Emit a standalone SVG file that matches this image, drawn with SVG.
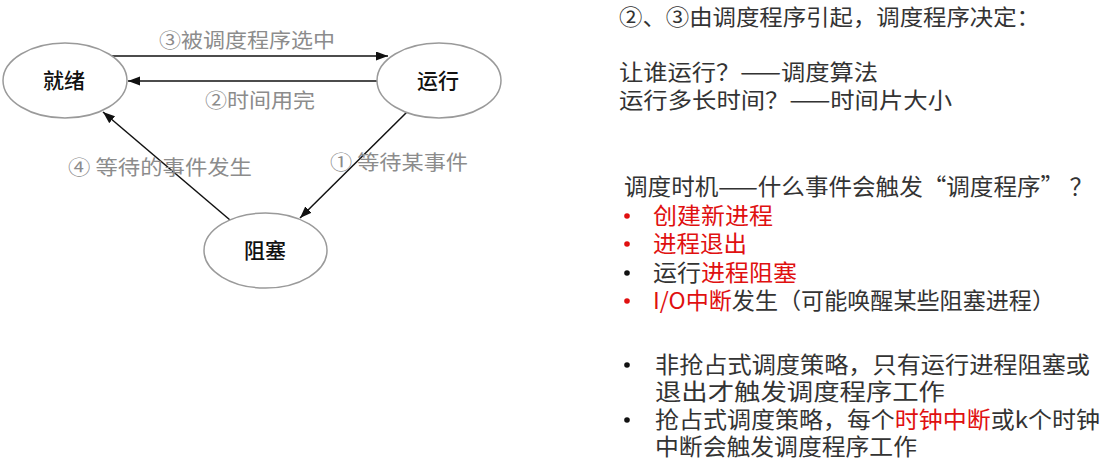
<svg xmlns="http://www.w3.org/2000/svg" width="1114" height="473" viewBox="0 0 1114 473">
<style>
.node{fill:#fff;stroke:#9a9a9a;stroke-width:1.5}
.nl{font-family:"Noto Sans CJK SC","Noto Sans",sans-serif;font-size:21px;font-weight:500;fill:#111;text-anchor:middle}
.el{font-family:"Noto Sans CJK SC","Noto Sans",sans-serif;font-size:20px;fill:#8c8c8c}
.edge{stroke:#111;stroke-width:1.5;fill:none;marker-end:url(#ah)}
.t{font-family:"Noto Sans CJK SC","Noto Sans",sans-serif;font-size:22px;fill:#333}
.m{font-size:22.5px}
.r{fill:#e01010}
.bk{fill:#111}
.bd{fill:#e01010}
</style>
<defs>
<marker id="ah" markerUnits="userSpaceOnUse" markerWidth="13" markerHeight="10" refX="12" refY="4.5" orient="auto">
<path d="M0,0 L12,4.5 L0,9 z" fill="#111"/>
</marker>
</defs>
<g id="connectors">
<line class="edge" x1="112" y1="56" x2="388" y2="56"/>
<line class="edge" x1="378" y1="81" x2="128" y2="81"/>
<line class="edge" x1="230" y1="220" x2="103" y2="112"/>
<line class="edge" x1="407" y1="112" x2="300" y2="218"/>
<text class="el" x="159" y="48" textLength="176" lengthAdjust="spacingAndGlyphs">③被调度程序选中</text>
<text class="el" x="205" y="108" textLength="110" lengthAdjust="spacingAndGlyphs">②时间用完</text>
<text class="el" x="68" y="175" textLength="184" lengthAdjust="spacingAndGlyphs">④ 等待的事件发生</text>
<text class="el" x="330" y="170" textLength="138" lengthAdjust="spacingAndGlyphs">① 等待某事件</text>
</g>
<g id="ready">
<ellipse class="node" cx="65" cy="80.5" rx="62" ry="37.5"/>
<text class="nl" x="64" y="88">就绪</text>
</g>
<g id="running">
<ellipse class="node" cx="439" cy="80.5" rx="62" ry="37.5"/>
<text class="nl" x="438" y="88">运行</text>
</g>
<g id="blocked">
<ellipse class="node" cx="265.5" cy="250.5" rx="61.5" ry="37.5"/>
<text class="nl" x="265" y="258">阻塞</text>
</g>
<g id="notes">
<text class="t" x="619" y="25" textLength="421" lengthAdjust="spacingAndGlyphs">②、③由调度程序引起，调度程序决定：</text>
<text class="t" x="619" y="80" textLength="259" lengthAdjust="spacingAndGlyphs">让谁运行？——调度算法</text>
<text class="t" x="619" y="108" textLength="333" lengthAdjust="spacingAndGlyphs">运行多长时间？——时间片大小</text>
<text class="t m" x="624" y="195" textLength="469" lengthAdjust="spacingAndGlyphs">调度时机——什么事件会触发“调度程序” ？</text>
<circle class="bd" cx="627" cy="216" r="2.8"/>
<text class="t m r" x="653" y="224" textLength="120" lengthAdjust="spacingAndGlyphs">创建新进程</text>
<circle class="bd" cx="627" cy="244" r="2.8"/>
<text class="t m r" x="653" y="252" textLength="94" lengthAdjust="spacingAndGlyphs">进程退出</text>
<circle class="bk" cx="627" cy="273" r="2.8"/>
<text class="t m" x="653" y="281" textLength="144" lengthAdjust="spacingAndGlyphs">运行<tspan class="r">进程阻塞</tspan></text>
<circle class="bd" cx="627" cy="301" r="2.8"/>
<text class="t m" x="653" y="309" textLength="402" lengthAdjust="spacingAndGlyphs"><tspan class="r">I/O中断</tspan>发生（可能唤醒某些阻塞进程）</text>
<circle class="bk" cx="627" cy="365" r="2.8"/>
<text class="t m" x="655" y="373" textLength="435" lengthAdjust="spacingAndGlyphs">非抢占式调度策略，只有运行进程阻塞或</text>
<text class="t m" x="655" y="400" textLength="290" lengthAdjust="spacingAndGlyphs">退出才触发调度程序工作</text>
<circle class="bk" cx="627" cy="420" r="2.8"/>
<text class="t m" x="655" y="428" textLength="445" lengthAdjust="spacingAndGlyphs">抢占式调度策略，每个<tspan class="r">时钟中断</tspan>或k个时钟</text>
<text class="t m" x="655" y="455" textLength="262" lengthAdjust="spacingAndGlyphs">中断会触发调度程序工作</text>
</g>
</svg>
